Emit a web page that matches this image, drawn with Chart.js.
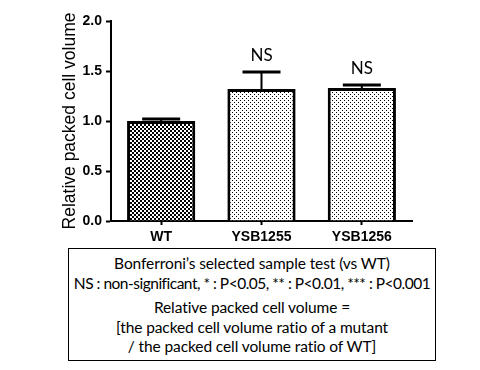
<!DOCTYPE html>
<html>
<head>
<meta charset="utf-8">
<script src="https://cdn.jsdelivr.net/npm/chart.js@4.4.0/dist/chart.umd.min.js"></script>
<style>
    body{margin:0;background:#fff;width:480px;height:370px;overflow:hidden;position:relative;}
    #grafico{position:absolute;left:0;top:0;width:480px;height:245px;}
    #nota{position:absolute;left:68px;top:248px;width:366px;height:111px;border:1px solid #000;
          font-family:Lato,"Open Sans",sans-serif;font-size:15.5px;letter-spacing:-0.1px;line-height:19.5px;
          text-align:center;color:#000;white-space:nowrap;}
    #nota p{margin:0;}
    #nota .apretada{letter-spacing:-0.5px;}
</style>
</head>
<body>
<div id="grafico"><canvas id="lienzo"></canvas></div>
<div id="nota">
    <p style="margin-top:5px">Bonferroni’s selected sample test (vs WT)<br><span class="apretada">NS : non-significant, * : P&lt;0.05, ** : P&lt;0.01, *** : P&lt;0.001</span></p>
    <p style="margin-top:5px">Relative packed cell volume =<br>[the packed cell volume ratio of a mutant<br>/ the packed cell volume ratio of WT]</p>
</div>
<script>
// Datos
var etiquetas = ['WT', 'YSB1255', 'YSB1256'];
var valores = [1.00, 1.32, 1.33];
var errores = [0.02, 0.17, 0.03];
var significancia = ['', 'NS', 'NS'];
var ticksY = [0.0, 0.5, 1.0, 1.5, 2.0];
var tituloY = 'Relative packed cell volume';

// Tramas de relleno (cuadros y puntos)
function trama(tipo){
    var c = document.createElement('canvas');
    c.width = 4; c.height = 4;
    var cx = c.getContext('2d');
    cx.fillStyle = '#fff';
    cx.fillRect(0, 0, 4, 4);
    cx.fillStyle = '#000';
    if(tipo == 'cuadros'){
        cx.fillRect(0, 0, 2, 2);
        cx.fillRect(2, 2, 2, 2);
    }
    else{
        cx.fillRect(0, 0, 1, 1);
        cx.fillRect(2, 2, 1, 1);
    }
    return cx.createPattern(c, 'repeat');
}

// Barras de error y etiquetas NS
var barrasError = {
    id: 'barrasError',
    afterDatasetsDraw: function(chart){
        var ctx = chart.ctx;
        var y = chart.scales.y;
        var meta = chart.getDatasetMeta(0);
        ctx.save();
        ctx.strokeStyle = '#000';
        ctx.fillStyle = '#000';
        for(var i=0;i<valores.length;i++){
            var x = meta.data[i].x;
            var yBarra = y.getPixelForValue(valores[i]);
            var yTope = y.getPixelForValue(valores[i] + errores[i]);
            ctx.lineWidth = 2;
            ctx.beginPath();
            ctx.moveTo(x, yBarra);
            ctx.lineTo(x, yTope);
            ctx.stroke();
            ctx.lineWidth = 3;
            ctx.beginPath();
            ctx.moveTo(x - 19, yTope);
            ctx.lineTo(x + 19, yTope);
            ctx.stroke();
            if(significancia[i] != ''){
                ctx.font = '17px Lato';
                ctx.textAlign = 'center';
                ctx.textBaseline = 'middle';
                ctx.fillText(significancia[i], x, yTope - 16);
            }
        }
        ctx.restore();
    }
};

var rellenos = [trama('cuadros'), trama('puntos'), trama('puntos')];

new Chart(document.getElementById('lienzo'), {
    type: 'bar',
    data: {
        labels: etiquetas,
        datasets: [{
            data: valores,
            backgroundColor: rellenos,
            borderColor: '#000',
            borderWidth: 3,
            borderSkipped: 'bottom',
            barPercentage: 0.68,
            categoryPercentage: 1.0
        }]
    },
    options: {
        responsive: true,
        maintainAspectRatio: false,
        animation: false,
        layout: {padding: {left: 0, top: 21, right: 68, bottom: 0}},
        plugins: {legend: {display: false}, tooltip: {enabled: false}},
        scales: {
            x: {
                grid: {display: true, drawOnChartArea: false, offset: false, tickLength: 4, tickWidth: 2, tickColor: '#000'},
                border: {display: true, color: '#000', width: 2},
                ticks: {color: '#000', font: {family: 'Liberation Sans', size: 14, weight: 'bold'}, padding: 4},
                afterFit: function(s){ s.height = 24; }
            },
            y: {
                min: 0,
                max: 2,
                afterBuildTicks: function(s){ s.ticks = ticksY.map(function(v){ return {value: v}; }); },
                grid: {display: true, drawOnChartArea: false, tickLength: 5, tickWidth: 2, tickColor: '#000'},
                border: {display: true, color: '#000', width: 2},
                ticks: {color: '#000', font: {family: 'Liberation Sans', size: 14, weight: 'bold'}, padding: 4,
                        callback: function(v){ return v.toFixed(1); }},
                title: {display: true, text: tituloY, color: '#000', font: {family: 'Liberation Sans', size: 17.5}, padding: {top: 60, bottom: 0}},
                afterFit: function(s){ s.width = 111; }
            }
        }
    },
    plugins: [barrasError]
});
</script>
</body>
</html>
